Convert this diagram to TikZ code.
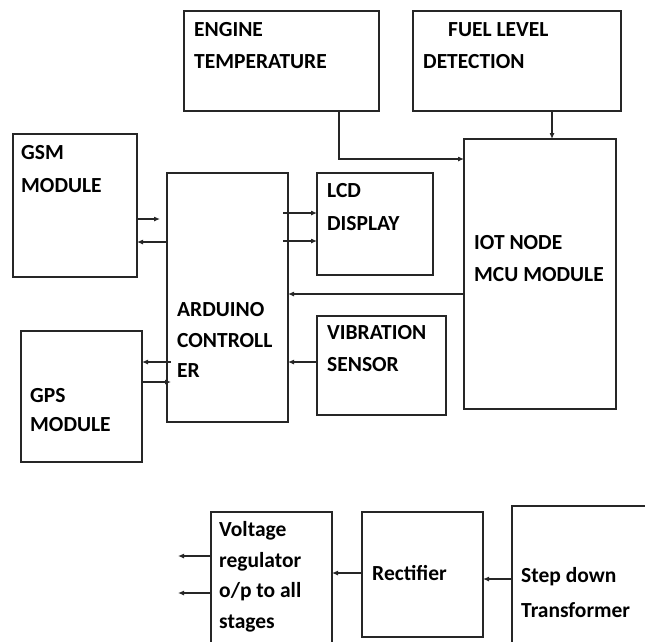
\documentclass[tikz,border=0pt]{standalone}
\usepackage{fontspec}
\setmainfont{Carlito}
\usetikzlibrary{arrows.meta}
\begin{document}
\begin{tikzpicture}[x=1pt,y=-1pt,
  blk/.style={draw=black!85,line width=1.4pt,rectangle,inner sep=0pt,outer sep=0pt},
  lbl/.style={anchor=north west,inner sep=0pt,align=left,font=\fontsize{21.5}{31}\selectfont\bfseries},
  conn/.style={draw=black!85,line width=1.1pt,-{Latex[length=6pt,width=5pt]}}]
\useasboundingbox (0,0) rectangle (645,641);
\clip (0,0) rectangle (645,641);
% boxes
\node[blk,minimum width=195pt,minimum height=100pt] (eng) at (281.5,61) {};
\node[blk,minimum width=208pt,minimum height=100pt] (fuel) at (517,61) {};
\node[blk,minimum width=152pt,minimum height=270pt] (iot) at (540,274) {};
\node[blk,minimum width=124pt,minimum height=143pt] (gsm) at (75,205.5) {};
\node[blk,minimum width=121pt,minimum height=249pt] (ard) at (227.5,297.5) {};
\node[blk,minimum width=116pt,minimum height=102pt] (lcd) at (375,224) {};
\node[blk,minimum width=129pt,minimum height=99pt] (vib) at (381.5,365.5) {};
\node[blk,minimum width=121pt,minimum height=131pt] (gps) at (81.5,396.5) {};
\node[blk,minimum width=121pt,minimum height=148pt] (volt) at (271.5,586) {};
\node[blk,minimum width=121pt,minimum height=125pt] (rect) at (422.5,574.5) {};
\node[blk,minimum width=148pt,minimum height=154pt] (step) at (586,583) {};
% labels
\node[lbl,font=\fontsize{21.5}{33}\selectfont\bfseries] (tgsm) at (21,145.5) {GSM\\MODULE};
\node[lbl,font=\fontsize{21.5}{32}\selectfont\bfseries] (teng) at (194,22.5) {ENGINE\\TEMPERATURE};
\node[lbl,font=\fontsize{21.5}{32}\selectfont\bfseries] (tfuel) at (423,22.5) {\hspace*{25pt}FUEL LEVEL\\DETECTION};
\node[lbl,font=\fontsize{21.5}{33}\selectfont\bfseries] (tlcd) at (327,183.5) {LCD\\DISPLAY};
\node[lbl,font=\fontsize{21.5}{32}\selectfont\bfseries] (tiot) at (474,235.5) {IOT NODE\\MCU MODULE};
\node[lbl,font=\fontsize{21.5}{32}\selectfont\bfseries] (tvib) at (327,325.5) {VIBRATION\\SENSOR};
\node[lbl,font=\fontsize{21.5}{30.5}\selectfont\bfseries] (tard) at (177,302.5) {ARDUINO\\CONTROLL\\ER};
\node[lbl,font=\fontsize{21.5}{29}\selectfont\bfseries] (tgps) at (30,388.5) {GPS\\MODULE};
\node[lbl,font=\fontsize{21.5}{30.5}\selectfont\bfseries] (tvolt) at (219,521.5) {Voltage\\regulator\\o/p to all\\stages};
\node[lbl] (trect) at (372,565.5) {Rectifier};
\node[lbl,font=\fontsize{21.5}{35}\selectfont\bfseries] (tstep) at (521,567.5) {Step down\\Transformer};
% free ends
\coordinate (gsmin) at (160,219);
\coordinate (out1) at (178,556);
\coordinate (out2) at (178,593);
% connectors
\draw[conn] (gsm.east |- 0,219) -- (gsmin);
\draw[conn] (ard.west |- 0,242) -- (gsm.east |- 0,242);
\draw[conn] ([xshift=-5pt]ard.east |- 0,213) -- (lcd.west |- 0,213);
\draw[conn] ([xshift=-5pt]ard.east |- 0,241) -- (lcd.west |- 0,241);
\draw[conn] (iot.west |- 0,294) -- (ard.east |- 0,294);
\draw[conn] (vib.west |- 0,362) -- (ard.east |- 0,362);
\draw[conn] ([xshift=4pt]ard.west |- 0,362) -- (gps.east |- 0,362);
\draw[conn] (gps.east |- 0,382) -- ([xshift=4pt]ard.west |- 0,382);
\draw[conn] (eng.south -| 339,0) |- (iot.west |- 0,159);
\draw[conn] (fuel.south -| 552,0) -- (iot.north -| 552,0);
\draw[conn] (step.west |- 0,579) -- (rect.east |- 0,579);
\draw[conn] (rect.west |- 0,573) -- (volt.east |- 0,573);
\draw[conn] (volt.west |- 0,556) -- (out1);
\draw[conn] (volt.west |- 0,593) -- (out2);
\end{tikzpicture}
\end{document}
